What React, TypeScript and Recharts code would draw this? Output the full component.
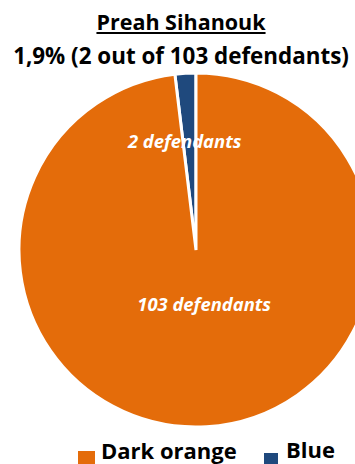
import { PieChart, Pie, Cell, Legend } from 'recharts';

const categories = ['Blue', 'Dark orange'];
const values = [2, 103];
const sliceLabels = ['2 defendants', '103 defendants'];
const legendOrder = ['Dark orange', 'Blue'];

const COLORS: Record<string, string> = {
  'Dark orange': '#E46C0A',
  Blue: '#1F497D',
};

const FONT = '"Open Sans", Lato, sans-serif';

const data = categories.map((name, i) => ({ name, value: values[i], label: sliceLabels[i] }));

const RAD = Math.PI / 180;

// label placement per slice: radius factor and small nudges
const LABEL_POS = [
  { k: 0.6, dx: -5, dy: -3 },
  { k: 0.3, dx: 5, dy: 0 },
];

const renderLabel = (props: any) => {
  const { cx, cy, midAngle, outerRadius, index } = props;
  const p = LABEL_POS[index];
  const r = outerRadius * p.k;
  const x = cx + r * Math.cos(-midAngle * RAD) + p.dx;
  const y = cy + r * Math.sin(-midAngle * RAD) + p.dy;
  return (
    <text
      x={x}
      y={y}
      fill="#fff"
      textAnchor="middle"
      dominantBaseline="central"
      fontFamily={FONT}
      fontStyle="italic"
      fontWeight={700}
      fontSize={18.4}
    >
      {sliceLabels[index]}
    </text>
  );
};

const renderLegend = () => (
  <div
    style={{
      position: 'relative',
      height: 27,
      fontFamily: FONT,
      fontWeight: 700,
      fontSize: 22,
      lineHeight: '26px',
      color: '#000',
      whiteSpace: 'nowrap',
    }}
  >
    <span style={{ position: 'absolute', left: 78, top: 12, width: 17, height: 16, background: COLORS[legendOrder[0]] }} />
    <span style={{ position: 'absolute', left: 101, top: -2 }}>{legendOrder[0]}</span>
    <span style={{ position: 'absolute', left: 264, top: 14, width: 14, height: 14, background: COLORS[legendOrder[1]] }} />
    <span style={{ position: 'absolute', left: 286, top: -3 }}>{legendOrder[1]}</span>
  </div>
);

export default function App() {
  return (
    <div
      style={{
        position: 'absolute',
        left: 0,
        top: 0,
        width: 355,
        height: 464,
        overflow: 'hidden',
        background: '#fff',
      }}
    >
      <div
        style={{
          position: 'absolute',
          left: 0,
          top: 5,
          width: 362,
          textAlign: 'center',
          fontFamily: FONT,
          fontWeight: 700,
          fontSize: 21.5,
          lineHeight: '33px',
          color: '#000',
          whiteSpace: 'nowrap',
        }}
      >
        <div style={{ textDecoration: 'underline' }}>Preah Sihanouk</div>
        <div style={{ fontSize: 22.4, marginTop: 1 }}>1,9% (2 out of 103 defendants)</div>
      </div>
      <PieChart width={420} height={464} margin={{ top: 0, right: 0, bottom: 0, left: 0 }}>
        <Pie
          data={data}
          dataKey="value"
          nameKey="name"
          cx={196}
          cy={250}
          outerRadius={177}
          startAngle={90}
          endAngle={450}
          stroke="#fff"
          strokeWidth={3}
          label={renderLabel}
          labelLine={false}
          isAnimationActive={false}
        >
          {data.map((d) => (
            <Cell key={d.name} fill={COLORS[d.name]} />
          ))}
        </Pie>
        <Legend
          content={renderLegend}
          layout="horizontal"
          verticalAlign="bottom"
          wrapperStyle={{ left: 0, width: 355, top: 439, bottom: 'auto' }}
        />
      </PieChart>
    </div>
  );
}
